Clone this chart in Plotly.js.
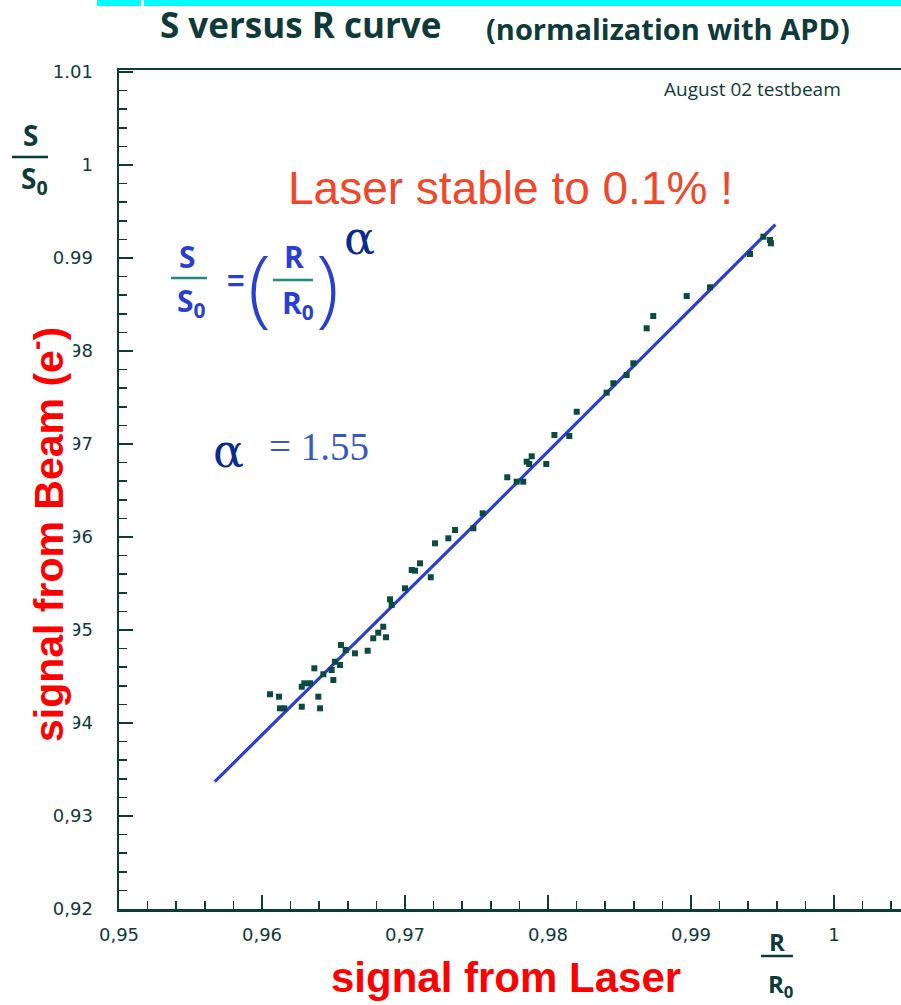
<!DOCTYPE html>
<html>
<head>
<meta charset="utf-8">
<script src="https://cdn.plot.ly/plotly-3.0.1.min.js"></script>
<style>html,body{margin:0;padding:0;background:#fff;}#chart{width:901px;height:1005px;}</style>
</head>
<body>
<div id="chart"></div>
<script>
// ---- data ----
var measR = [0.96056,0.96119,0.96126,0.96156,0.96278,0.96406,0.96394,0.96278,0.96296,0.96336,
             0.96366,0.96429,0.96499,0.96487,0.96510,0.96545,0.96552,0.96585,0.96650,0.96739,
             0.96778,0.96813,0.96867,0.96848,0.96895,0.96907,0.97000,0.97047,0.97070,0.97105,
             0.97180,0.97210,0.97303,0.97350,0.97478,0.97543,0.97715,0.97781,0.97827,0.97851,
             0.97886,0.97869,0.97988,0.98045,0.98149,0.98201,0.98410,0.98457,0.98550,0.98597,
             0.98690,0.98736,0.98970,0.99133,0.99413,0.99506,0.99552,0.99559];
var measS = [0.94309,0.94283,0.94158,0.94158,0.94175,0.94158,0.94283,0.94390,0.94427,0.94427,
             0.94588,0.94524,0.94462,0.94570,0.94659,0.94624,0.94839,0.94785,0.94749,0.94777,
             0.94911,0.94971,0.94922,0.95035,0.95330,0.95269,0.95448,0.95645,0.95638,0.95717,
             0.95567,0.95932,0.95986,0.96075,0.96094,0.96255,0.96642,0.96595,0.96595,0.96810,
             0.96868,0.96785,0.96785,0.97097,0.97086,0.97347,0.97552,0.97653,0.97742,0.97868,
             0.98244,0.98376,0.98591,0.98685,0.99043,0.99229,0.99194,0.99158];
var fitR = [0.9567, 0.9763, 0.9959];
var fitS = [0.9337, 0.9635, 0.9936];
var xTickVals = [0.95, 0.96, 0.97, 0.98, 0.99, 1.00];
var xTickText = ["0,95", "0,96", "0,97", "0,98", "0,99", "1"];
var yTickVals = [0.92, 0.93, 0.94, 0.95, 0.96, 0.97, 0.98, 0.99, 1.00, 1.01];
var yTickText = ["0,92", "0,93", "0,94", "0,95", "0,96", "0,97", "0,98", "0.99", "1", "1.01"];

// ---- layout helpers (pixel -> paper) ----
var L = 119, T = 70, W = 901, H = 1005, PW = 782, PH = 839;
function px(x) { return (x - L) / PW; }
function py(y) { return (T + PH - y) / PH; }

var ink = "#0f3a3a";
var blue = "#2a3fd0";
var navy = "#0b2a8f";

function ann(text, x, y, size, color, extra) {
  var a = {text: text, x: px(x), y: py(y), xref: "paper", yref: "paper",
           showarrow: false, xanchor: "center", yanchor: "middle",
           font: {size: size, color: color, family: "Liberation Sans, Arial, sans-serif"}};
  for (var k in extra) { if (k === "font") { for (var f in extra.font) a.font[f] = extra.font[f]; } else a[k] = extra[k]; }
  return a;
}
function hline(x0, x1, y, color, w) {
  return {type: "line", xref: "paper", yref: "paper", x0: px(x0), x1: px(x1), y0: py(y), y1: py(y),
          line: {color: color, width: w}};
}

var traces = [
  {x: fitR, y: fitS, mode: "lines", type: "scatter", line: {color: blue, width: 3.2}, hoverinfo: "skip"},
  {x: measR, y: measS, mode: "markers", type: "scatter",
   marker: {symbol: "square", size: 6, color: "#0a4a42"}}
];

var cond = "Open Sans, sans-serif";
var thin = "DejaVu Sans ExtraLight, Open Sans, sans-serif";
var annotations = [
  ann("<b>S versus R curve</b>", 300, 25, 35, ink, {font: {family: cond}}),
  ann("<b>(normalization with APD)</b>", 668, 28, 29, ink, {font: {family: cond}}),
  ann("August 02 testbeam", 752, 89, 19, ink, {font: {family: cond}}),
  ann("Laser stable to 0.1% !", 510, 188, 46, "#f0472a"),
  // axis fraction labels
  ann("<b>S</b>", 30, 135, 28, ink, {font: {family: cond}}),
  ann("<b>S<sub>0</sub></b>", 34, 180, 28, ink, {font: {family: cond}}),
  ann("<b>R</b>", 777, 941, 24, ink, {font: {family: cond}}),
  ann("<b>R<sub>0</sub></b>", 780, 985, 24, ink, {font: {family: cond}}),
  // formula
  ann("<b>S</b>", 187, 256, 30, blue, {font: {family: cond}}),
  ann("<b>S<sub>0</sub></b>", 191, 302, 30, blue, {font: {family: cond}}),
  ann("<b>=</b>", 236, 280, 30, blue),
  ann("(", 259, 284, 84, blue, {font: {family: thin, weight: 200}}),
  ann("<b>R</b>", 294, 256, 30, blue, {font: {family: cond}}),
  ann("<b>R<sub>0</sub></b>", 298, 304, 30, blue, {font: {family: thin === "" ? cond : cond}}),
  ann(")", 327, 284, 84, blue, {font: {family: thin, weight: 200}}),
  ann("α", 359, 238, 46, navy, {font: {family: "DejaVu Serif, serif"}}),
  ann("α", 228, 451, 46, navy, {font: {family: "DejaVu Serif, serif"}}),
  ann("= 1.55", 319, 446, 39, "#3a56c0", {font: {family: "Liberation Serif, serif"}}),
  // red axis titles
  ann("<b>signal from Laser</b>", 506, 977, 42, "#ff0000"),
  ann("<b>signal from Beam (e<sup>-</sup>)</b>", 46, 535, 41, "#ff0000", {textangle: -90, bgcolor: "#ffffff"})
];

var shapes = [
  {type: "rect", xref: "paper", yref: "paper", x0: px(97), x1: px(141), y0: py(6), y1: py(0),
   fillcolor: "#00ffff", line: {width: 0}},
  {type: "rect", xref: "paper", yref: "paper", x0: px(144), x1: 1.0, y0: py(6), y1: py(0),
   fillcolor: "#00ffff", line: {width: 0}},
  hline(12, 48, 157, ink, 2.5),
  hline(171, 207, 278, "#1f8a80", 2.5),
  hline(273, 313, 280, "#1f8a80", 2.5),
  hline(761, 793, 956, ink, 2.5)
];

var axisCommon = {
  showgrid: false, zeroline: false, showline: true, linecolor: ink, linewidth: 2.5,
  ticks: "inside", ticklen: 14, tickwidth: 2, tickcolor: ink, tickmode: "array",
  tickfont: {family: "DejaVu Sans, sans-serif", size: 18, color: ink}
};

var xaxis = Object.assign({}, axisCommon, {
  range: [0.95, 0.95 + PW / 14300], tickvals: xTickVals, ticktext: xTickText,
  mirror: true, ticklabelstandoff: 8,
  minor: {tickmode: "linear", tick0: 0.95, dtick: 0.002, ticks: "inside", ticklen: 8, tickwidth: 1.5, tickcolor: ink}
});
var yaxis = Object.assign({}, axisCommon, {
  range: [0.92, 0.92 + PH / 9300], tickvals: yTickVals, ticktext: yTickText,
  ticklabelstandoff: 20,
  minor: {tickmode: "linear", tick0: 0.92, dtick: 0.002, ticks: "inside", ticklen: 8, tickwidth: 1.5, tickcolor: ink}
});

var layout = {
  width: W, height: H, autosize: false,
  margin: {l: L, r: W - L - PW, t: T, b: H - T - PH, pad: 0},
  paper_bgcolor: "#ffffff", plot_bgcolor: "#ffffff",
  showlegend: false, xaxis: xaxis, yaxis: yaxis,
  annotations: annotations, shapes: shapes
};

Plotly.newPlot("chart", traces, layout, {staticPlot: true, displayModeBar: false});
</script>
</body>
</html>
